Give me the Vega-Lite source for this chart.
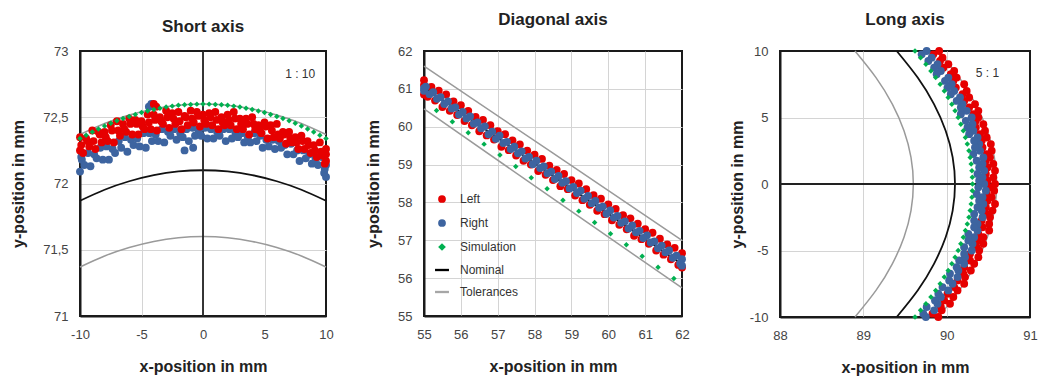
{
  "$schema": "https://vega.github.io/schema/vega-lite/v6.json",
  "padding": {"left": 9, "top": 10, "right": 0, "bottom": 0},
  "background": "white",
  "datasets": {
    "p1": [
      {"s":"Right","x":-9.85,"y":72.18},{"s":"Right","x":-9.35,"y":72.23},{"s":"Right","x":-8.85,"y":72.22},{"s":"Right","x":-8.35,"y":72.27},{"s":"Right","x":-7.85,"y":72.28},{"s":"Right","x":-7.35,"y":72.26},{"s":"Right","x":-6.85,"y":72.32},{"s":"Right","x":-6.35,"y":72.35},{"s":"Right","x":-5.85,"y":72.33},{"s":"Right","x":-5.35,"y":72.34},{"s":"Right","x":-4.85,"y":72.38},{"s":"Right","x":-4.35,"y":72.38},{"s":"Right","x":-3.85,"y":72.37},{"s":"Right","x":-3.35,"y":72.41},{"s":"Right","x":-2.85,"y":72.39},{"s":"Right","x":-2.35,"y":72.41},{"s":"Right","x":-1.85,"y":72.38},{"s":"Right","x":-1.35,"y":72.41},{"s":"Right","x":-0.85,"y":72.42},{"s":"Right","x":-0.35,"y":72.4},{"s":"Right","x":0.15,"y":72.42},{"s":"Right","x":0.65,"y":72.41},{"s":"Right","x":1.15,"y":72.39},{"s":"Right","x":1.65,"y":72.41},{"s":"Right","x":2.15,"y":72.41},{"s":"Right","x":2.65,"y":72.38},{"s":"Right","x":3.15,"y":72.38},{"s":"Right","x":3.65,"y":72.35},{"s":"Right","x":4.15,"y":72.38},{"s":"Right","x":4.65,"y":72.36},{"s":"Right","x":5.15,"y":72.33},{"s":"Right","x":5.65,"y":72.33},{"s":"Right","x":6.15,"y":72.32},{"s":"Right","x":6.65,"y":72.29},{"s":"Right","x":7.15,"y":72.3},{"s":"Right","x":7.65,"y":72.25},{"s":"Right","x":8.15,"y":72.25},{"s":"Right","x":8.65,"y":72.22},{"s":"Right","x":9.15,"y":72.19},{"s":"Right","x":9.65,"y":72.2},{"s":"Right","x":10,"y":72.14},
      {"s":"Right","x":-9.65,"y":72.14},{"s":"Right","x":-9.15,"y":72.13},{"s":"Right","x":-8.65,"y":72.19},{"s":"Right","x":-8.15,"y":72.18},{"s":"Right","x":-7.65,"y":72.18},{"s":"Right","x":-7.15,"y":72.23},{"s":"Right","x":-6.65,"y":72.27},{"s":"Right","x":-6.15,"y":72.24},{"s":"Right","x":-5.65,"y":72.29},{"s":"Right","x":-5.15,"y":72.28},{"s":"Right","x":-4.65,"y":72.27},{"s":"Right","x":-4.15,"y":72.32},{"s":"Right","x":-3.65,"y":72.32},{"s":"Right","x":-3.15,"y":72.31},{"s":"Right","x":-2.65,"y":72.36},{"s":"Right","x":-2.15,"y":72.33},{"s":"Right","x":-1.65,"y":72.35},{"s":"Right","x":-1.15,"y":72.32},{"s":"Right","x":-0.65,"y":72.36},{"s":"Right","x":-0.15,"y":72.36},{"s":"Right","x":0.35,"y":72.34},{"s":"Right","x":0.85,"y":72.34},{"s":"Right","x":1.35,"y":72.36},{"s":"Right","x":1.85,"y":72.32},{"s":"Right","x":2.35,"y":72.34},{"s":"Right","x":2.85,"y":72.35},{"s":"Right","x":3.35,"y":72.31},{"s":"Right","x":3.85,"y":72.31},{"s":"Right","x":4.35,"y":72.32},{"s":"Right","x":4.85,"y":72.27},{"s":"Right","x":5.35,"y":72.28},{"s":"Right","x":5.85,"y":72.26},{"s":"Right","x":6.35,"y":72.27},{"s":"Right","x":6.85,"y":72.22},{"s":"Right","x":7.35,"y":72.22},{"s":"Right","x":7.85,"y":72.17},{"s":"Right","x":8.35,"y":72.19},{"s":"Right","x":8.85,"y":72.15},{"s":"Right","x":9.35,"y":72.14},{"s":"Right","x":9.85,"y":72.08},
      {"s":"Right","x":-10,"y":72.09},{"s":"Right","x":-9.9,"y":72.2},{"s":"Right","x":-4.2,"y":72.6},{"s":"Right","x":-4.4,"y":72.58},{"s":"Right","x":-1.5,"y":72.25},{"s":"Right","x":-0.8,"y":72.27},{"s":"Right","x":10,"y":72.05},{"s":"Right","x":9.9,"y":72.11},
      {"s":"Left","x":-10,"y":72.35},{"s":"Left","x":-9.5,"y":72.34},{"s":"Left","x":-9,"y":72.40},{"s":"Left","x":-8.5,"y":72.39},{"s":"Left","x":-8,"y":72.39},{"s":"Left","x":-7.5,"y":72.44},{"s":"Left","x":-7,"y":72.47},{"s":"Left","x":-6.5,"y":72.45},{"s":"Left","x":-6,"y":72.49},{"s":"Left","x":-5.5,"y":72.48},{"s":"Left","x":-5,"y":72.47},{"s":"Left","x":-4.5,"y":72.52},{"s":"Left","x":-4,"y":72.52},{"s":"Left","x":-3.5,"y":72.5},{"s":"Left","x":-3,"y":72.55},{"s":"Left","x":-2.5,"y":72.53},{"s":"Left","x":-2,"y":72.54},{"s":"Left","x":-1.5,"y":72.51},{"s":"Left","x":-1,"y":72.55},{"s":"Left","x":-0.5,"y":72.54},{"s":"Left","x":0,"y":72.52},{"s":"Left","x":0.5,"y":72.53},{"s":"Left","x":1,"y":72.54},{"s":"Left","x":1.5,"y":72.5},{"s":"Left","x":2,"y":72.52},{"s":"Left","x":2.5,"y":72.54},{"s":"Left","x":3,"y":72.49},{"s":"Left","x":3.5,"y":72.49},{"s":"Left","x":4,"y":72.5},{"s":"Left","x":4.5,"y":72.44},{"s":"Left","x":5,"y":72.46},{"s":"Left","x":5.5,"y":72.44},{"s":"Left","x":6,"y":72.45},{"s":"Left","x":6.5,"y":72.39},{"s":"Left","x":7,"y":72.39},{"s":"Left","x":7.5,"y":72.35},{"s":"Left","x":8,"y":72.36},{"s":"Left","x":8.5,"y":72.32},{"s":"Left","x":9,"y":72.29},{"s":"Left","x":9.5,"y":72.31},{"s":"Left","x":10,"y":72.26},
      {"s":"Left","x":-9.9,"y":72.29},{"s":"Left","x":-9.4,"y":72.32},{"s":"Left","x":-8.9,"y":72.32},{"s":"Left","x":-8.4,"y":72.37},{"s":"Left","x":-7.9,"y":72.35},{"s":"Left","x":-7.4,"y":72.40},{"s":"Left","x":-6.9,"y":72.40},{"s":"Left","x":-6.4,"y":72.41},{"s":"Left","x":-5.9,"y":72.45},{"s":"Left","x":-5.4,"y":72.45},{"s":"Left","x":-4.9,"y":72.43},{"s":"Left","x":-4.4,"y":72.46},{"s":"Left","x":-3.9,"y":72.48},{"s":"Left","x":-3.4,"y":72.47},{"s":"Left","x":-2.9,"y":72.50},{"s":"Left","x":-2.4,"y":72.49},{"s":"Left","x":-1.9,"y":72.47},{"s":"Left","x":-1.4,"y":72.50},{"s":"Left","x":-0.9,"y":72.49},{"s":"Left","x":-0.4,"y":72.51},{"s":"Left","x":0.1,"y":72.48},{"s":"Left","x":0.6,"y":72.50},{"s":"Left","x":1.1,"y":72.48},{"s":"Left","x":1.6,"y":72.46},{"s":"Left","x":2.1,"y":72.48},{"s":"Left","x":2.6,"y":72.49},{"s":"Left","x":3.1,"y":72.45},{"s":"Left","x":3.6,"y":72.45},{"s":"Left","x":4.1,"y":72.45},{"s":"Left","x":4.6,"y":72.40},{"s":"Left","x":5.1,"y":72.43},{"s":"Left","x":5.6,"y":72.40},{"s":"Left","x":6.1,"y":72.37},{"s":"Left","x":6.6,"y":72.37},{"s":"Left","x":7.1,"y":72.34},{"s":"Left","x":7.6,"y":72.31},{"s":"Left","x":8.1,"y":72.32},{"s":"Left","x":8.6,"y":72.29},{"s":"Left","x":9.1,"y":72.25},{"s":"Left","x":9.6,"y":72.24},{"s":"Left","x":10,"y":72.22},
      {"s":"Left","x":-9.75,"y":72.23},{"s":"Left","x":-9.25,"y":72.28},{"s":"Left","x":-8.75,"y":72.26},{"s":"Left","x":-8.25,"y":72.31},{"s":"Left","x":-7.75,"y":72.32},{"s":"Left","x":-7.25,"y":72.31},{"s":"Left","x":-6.75,"y":72.36},{"s":"Left","x":-6.25,"y":72.39},{"s":"Left","x":-5.75,"y":72.37},{"s":"Left","x":-5.25,"y":72.37},{"s":"Left","x":-4.75,"y":72.41},{"s":"Left","x":-4.25,"y":72.41},{"s":"Left","x":-3.75,"y":72.40},{"s":"Left","x":-3.25,"y":72.45},{"s":"Left","x":-2.75,"y":72.42},{"s":"Left","x":-2.25,"y":72.45},{"s":"Left","x":-1.75,"y":72.41},{"s":"Left","x":-1.25,"y":72.44},{"s":"Left","x":-0.75,"y":72.46},{"s":"Left","x":-0.25,"y":72.43},{"s":"Left","x":0.25,"y":72.45},{"s":"Left","x":0.75,"y":72.44},{"s":"Left","x":1.25,"y":72.41},{"s":"Left","x":1.75,"y":72.44},{"s":"Left","x":2.25,"y":72.44},{"s":"Left","x":2.75,"y":72.41},{"s":"Left","x":3.25,"y":72.41},{"s":"Left","x":3.75,"y":72.37},{"s":"Left","x":4.25,"y":72.41},{"s":"Left","x":4.75,"y":72.38},{"s":"Left","x":5.25,"y":72.34},{"s":"Left","x":5.75,"y":72.35},{"s":"Left","x":6.25,"y":72.34},{"s":"Left","x":6.75,"y":72.30},{"s":"Left","x":7.25,"y":72.31},{"s":"Left","x":7.75,"y":72.26},{"s":"Left","x":8.25,"y":72.26},{"s":"Left","x":8.75,"y":72.23},{"s":"Left","x":9.25,"y":72.20},{"s":"Left","x":9.75,"y":72.21},
      {"s":"Left","x":-4,"y":72.6},{"s":"Left","x":-3.8,"y":72.58},{"s":"Left","x":9.9,"y":72.15},{"s":"Left","x":-10,"y":72.25},{"s":"Left","x":10,"y":72.17},
      {"s":"Simulation","x":-10,"y":72.34},{"s":"Simulation","x":-9.5,"y":72.365},{"s":"Simulation","x":-9,"y":72.389},{"s":"Simulation","x":-8.5,"y":72.412},{"s":"Simulation","x":-8,"y":72.434},{"s":"Simulation","x":-7.5,"y":72.454},{"s":"Simulation","x":-7,"y":72.473},{"s":"Simulation","x":-6.5,"y":72.49},{"s":"Simulation","x":-6,"y":72.506},{"s":"Simulation","x":-5.5,"y":72.521},{"s":"Simulation","x":-5,"y":72.535},{"s":"Simulation","x":-4.5,"y":72.547},{"s":"Simulation","x":-4,"y":72.558},{"s":"Simulation","x":-3.5,"y":72.568},{"s":"Simulation","x":-3,"y":72.577},{"s":"Simulation","x":-2.5,"y":72.584},{"s":"Simulation","x":-2,"y":72.59},{"s":"Simulation","x":-1.5,"y":72.594},{"s":"Simulation","x":-1,"y":72.597},{"s":"Simulation","x":-0.5,"y":72.599},{"s":"Simulation","x":0,"y":72.6},{"s":"Simulation","x":0.5,"y":72.599},{"s":"Simulation","x":1,"y":72.597},{"s":"Simulation","x":1.5,"y":72.594},{"s":"Simulation","x":2,"y":72.59},{"s":"Simulation","x":2.5,"y":72.584},{"s":"Simulation","x":3,"y":72.577},{"s":"Simulation","x":3.5,"y":72.568},{"s":"Simulation","x":4,"y":72.558},{"s":"Simulation","x":4.5,"y":72.547},{"s":"Simulation","x":5,"y":72.535},{"s":"Simulation","x":5.5,"y":72.521},{"s":"Simulation","x":6,"y":72.506},{"s":"Simulation","x":6.5,"y":72.49},{"s":"Simulation","x":7,"y":72.473},{"s":"Simulation","x":7.5,"y":72.454},{"s":"Simulation","x":8,"y":72.434},{"s":"Simulation","x":8.5,"y":72.412},{"s":"Simulation","x":9,"y":72.389},{"s":"Simulation","x":9.5,"y":72.365},{"s":"Simulation","x":10,"y":72.34}
    ],
    "p1l": [
      {"s":"Nominal","x":-10,"y":71.87},{"s":"Nominal","x":-8,"y":71.953},{"s":"Nominal","x":-6,"y":72.017},{"s":"Nominal","x":-4,"y":72.063},{"s":"Nominal","x":-2,"y":72.091},{"s":"Nominal","x":0,"y":72.1},{"s":"Nominal","x":2,"y":72.091},{"s":"Nominal","x":4,"y":72.063},{"s":"Nominal","x":6,"y":72.017},{"s":"Nominal","x":8,"y":71.953},{"s":"Nominal","x":10,"y":71.87},
      {"s":"TolLow","x":-10,"y":71.37},{"s":"TolLow","x":-8,"y":71.453},{"s":"TolLow","x":-6,"y":71.517},{"s":"TolLow","x":-4,"y":71.563},{"s":"TolLow","x":-2,"y":71.591},{"s":"TolLow","x":0,"y":71.6},{"s":"TolLow","x":2,"y":71.591},{"s":"TolLow","x":4,"y":71.563},{"s":"TolLow","x":6,"y":71.517},{"s":"TolLow","x":8,"y":71.453},{"s":"TolLow","x":10,"y":71.37},
      {"s":"TolUp","x":-10,"y":72.37},{"s":"TolUp","x":-8,"y":72.453},{"s":"TolUp","x":-6,"y":72.517},{"s":"TolUp","x":-4,"y":72.563},{"s":"TolUp","x":-2,"y":72.591},{"s":"TolUp","x":0,"y":72.6},{"s":"TolUp","x":2,"y":72.591},{"s":"TolUp","x":4,"y":72.563},{"s":"TolUp","x":6,"y":72.517},{"s":"TolUp","x":8,"y":72.453},{"s":"TolUp","x":10,"y":72.37}
    ],
    "p2": [
      {"s":"Left","x":55,"y":61.23},{"s":"Left","x":55.2,"y":61.05},{"s":"Left","x":55.4,"y":60.95},{"s":"Left","x":55.6,"y":60.85},{"s":"Left","x":55.8,"y":60.67},{"s":"Left","x":56,"y":60.57},{"s":"Left","x":56.2,"y":60.42},{"s":"Left","x":56.4,"y":60.26},{"s":"Left","x":56.6,"y":60.18},{"s":"Left","x":56.8,"y":60.04},{"s":"Left","x":57,"y":59.88},{"s":"Left","x":57.2,"y":59.8},{"s":"Left","x":57.4,"y":59.64},{"s":"Left","x":57.6,"y":59.53},{"s":"Left","x":57.8,"y":59.37},{"s":"Left","x":58,"y":59.26},{"s":"Left","x":58.2,"y":59.15},{"s":"Left","x":58.4,"y":58.97},{"s":"Left","x":58.6,"y":58.86},{"s":"Left","x":58.8,"y":58.75},{"s":"Left","x":59,"y":58.59},{"s":"Left","x":59.2,"y":58.5},{"s":"Left","x":59.4,"y":58.35},{"s":"Left","x":59.6,"y":58.19},{"s":"Left","x":59.8,"y":58.1},{"s":"Left","x":60,"y":57.95},{"s":"Left","x":60.2,"y":57.83},{"s":"Left","x":60.4,"y":57.66},{"s":"Left","x":60.6,"y":57.58},{"s":"Left","x":60.8,"y":57.44},{"s":"Left","x":61,"y":57.29},{"s":"Left","x":61.2,"y":57.2},{"s":"Left","x":61.4,"y":57.04},{"s":"Left","x":61.6,"y":56.89},{"s":"Left","x":61.8,"y":56.8},{"s":"Left","x":62,"y":56.66},
      {"s":"Left","x":55.1,"y":60.79},{"s":"Left","x":55.3,"y":60.69},{"s":"Left","x":55.5,"y":60.52},{"s":"Left","x":55.7,"y":60.42},{"s":"Left","x":55.9,"y":60.31},{"s":"Left","x":56.1,"y":60.15},{"s":"Left","x":56.3,"y":60.04},{"s":"Left","x":56.5,"y":59.88},{"s":"Left","x":56.7,"y":59.77},{"s":"Left","x":56.9,"y":59.66},{"s":"Left","x":57.1,"y":59.47},{"s":"Left","x":57.3,"y":59.38},{"s":"Left","x":57.5,"y":59.24},{"s":"Left","x":57.7,"y":59.1},{"s":"Left","x":57.9,"y":59.0},{"s":"Left","x":58.1,"y":58.83},{"s":"Left","x":58.3,"y":58.73},{"s":"Left","x":58.5,"y":58.59},{"s":"Left","x":58.7,"y":58.43},{"s":"Left","x":58.9,"y":58.35},{"s":"Left","x":59.1,"y":58.18},{"s":"Left","x":59.3,"y":58.06},{"s":"Left","x":59.5,"y":57.94},{"s":"Left","x":59.7,"y":57.78},{"s":"Left","x":59.9,"y":57.69},{"s":"Left","x":60.1,"y":57.53},{"s":"Left","x":60.3,"y":57.41},{"s":"Left","x":60.5,"y":57.29},{"s":"Left","x":60.7,"y":57.12},{"s":"Left","x":60.9,"y":57.03},{"s":"Left","x":61.1,"y":56.91},{"s":"Left","x":61.3,"y":56.73},{"s":"Left","x":61.5,"y":56.62},{"s":"Left","x":61.7,"y":56.5},{"s":"Left","x":61.9,"y":56.35},{"s":"Left","x":62,"y":56.28},{"s":"Left","x":55,"y":60.85},{"s":"Left","x":55,"y":61.1},
      {"s":"Right","x":55.05,"y":61.06},{"s":"Right","x":55.25,"y":60.91},{"s":"Right","x":55.45,"y":60.78},{"s":"Right","x":55.65,"y":60.67},{"s":"Right","x":55.85,"y":60.51},{"s":"Right","x":56.05,"y":60.39},{"s":"Right","x":56.25,"y":60.27},{"s":"Right","x":56.45,"y":60.11},{"s":"Right","x":56.65,"y":60.01},{"s":"Right","x":56.85,"y":59.87},{"s":"Right","x":57.05,"y":59.76},{"s":"Right","x":57.25,"y":59.6},{"s":"Right","x":57.45,"y":59.47},{"s":"Right","x":57.65,"y":59.35},{"s":"Right","x":57.85,"y":59.2},{"s":"Right","x":58.05,"y":59.1},{"s":"Right","x":58.25,"y":58.95},{"s":"Right","x":58.45,"y":58.81},{"s":"Right","x":58.65,"y":58.7},{"s":"Right","x":58.85,"y":58.56},{"s":"Right","x":59.05,"y":58.41},{"s":"Right","x":59.25,"y":58.31},{"s":"Right","x":59.45,"y":58.17},{"s":"Right","x":59.65,"y":58.04},{"s":"Right","x":59.85,"y":57.89},{"s":"Right","x":60.05,"y":57.79},{"s":"Right","x":60.25,"y":57.64},{"s":"Right","x":60.45,"y":57.5},{"s":"Right","x":60.65,"y":57.39},{"s":"Right","x":60.85,"y":57.25},{"s":"Right","x":61.05,"y":57.13},{"s":"Right","x":61.25,"y":56.97},{"s":"Right","x":61.45,"y":56.86},{"s":"Right","x":61.65,"y":56.73},{"s":"Right","x":61.85,"y":56.59},{"s":"Right","x":62,"y":56.5},
      {"s":"Right","x":55.15,"y":60.86},{"s":"Right","x":55.35,"y":60.74},{"s":"Right","x":55.55,"y":60.6},{"s":"Right","x":55.75,"y":60.48},{"s":"Right","x":55.95,"y":60.32},{"s":"Right","x":56.15,"y":60.22},{"s":"Right","x":56.35,"y":60.08},{"s":"Right","x":56.55,"y":59.96},{"s":"Right","x":56.75,"y":59.8},{"s":"Right","x":56.95,"y":59.68},{"s":"Right","x":57.15,"y":59.57},{"s":"Right","x":57.35,"y":59.41},{"s":"Right","x":57.55,"y":59.3},{"s":"Right","x":57.75,"y":59.16},{"s":"Right","x":57.95,"y":59.01},{"s":"Right","x":58.15,"y":58.91},{"s":"Right","x":58.35,"y":58.77},{"s":"Right","x":58.55,"y":58.62},{"s":"Right","x":58.75,"y":58.52},{"s":"Right","x":58.95,"y":58.37},{"s":"Right","x":59.15,"y":58.25},{"s":"Right","x":59.35,"y":58.1},{"s":"Right","x":59.55,"y":57.98},{"s":"Right","x":59.75,"y":57.86},{"s":"Right","x":59.95,"y":57.7},{"s":"Right","x":60.15,"y":57.6},{"s":"Right","x":60.35,"y":57.46},{"s":"Right","x":60.55,"y":57.31},{"s":"Right","x":60.75,"y":57.21},{"s":"Right","x":60.95,"y":57.06},{"s":"Right","x":61.15,"y":56.94},{"s":"Right","x":61.35,"y":56.79},{"s":"Right","x":61.55,"y":56.68},{"s":"Right","x":61.75,"y":56.54},{"s":"Right","x":61.95,"y":56.39},{"s":"Right","x":62,"y":56.33},{"s":"Right","x":55,"y":60.95},{"s":"Right","x":55,"y":61.02},
      {"s":"Simulation","x":55.34,"y":60.43},{"s":"Simulation","x":55.77,"y":60.13},{"s":"Simulation","x":56.2,"y":59.84},{"s":"Simulation","x":56.63,"y":59.54},{"s":"Simulation","x":57.06,"y":59.25},{"s":"Simulation","x":57.49,"y":58.95},{"s":"Simulation","x":57.91,"y":58.65},{"s":"Simulation","x":58.34,"y":58.36},{"s":"Simulation","x":58.77,"y":58.06},{"s":"Simulation","x":59.2,"y":57.77},{"s":"Simulation","x":59.63,"y":57.47},{"s":"Simulation","x":60.06,"y":57.17},{"s":"Simulation","x":60.49,"y":56.88},{"s":"Simulation","x":60.92,"y":56.58},{"s":"Simulation","x":61.35,"y":56.29},{"s":"Simulation","x":61.78,"y":55.99}
    ],
    "p2l": [
      {"s":"Nominal","x":55,"y":61.04},{"s":"Nominal","x":58.5,"y":58.7},{"s":"Nominal","x":62,"y":56.37},
      {"s":"TolUp","x":55,"y":61.6},{"s":"TolUp","x":58.5,"y":59.3},{"s":"TolUp","x":62,"y":57.0},
      {"s":"TolLow","x":55,"y":60.47},{"s":"TolLow","x":58.5,"y":58.1},{"s":"TolLow","x":62,"y":55.74}
    ],
    "p3": [
      {"s":"Left","x":89.9,"y":-10},{"s":"Left","x":89.94,"y":-9.5},{"s":"Left","x":90.04,"y":-9},{"s":"Left","x":90.08,"y":-8.5},{"s":"Left","x":90.13,"y":-8},{"s":"Left","x":90.21,"y":-7.5},{"s":"Left","x":90.22,"y":-7},{"s":"Left","x":90.29,"y":-6.5},{"s":"Left","x":90.33,"y":-6},{"s":"Left","x":90.38,"y":-5.5},{"s":"Left","x":90.39,"y":-5},{"s":"Left","x":90.44,"y":-4.5},{"s":"Left","x":90.44,"y":-4},{"s":"Left","x":90.51,"y":-3.5},{"s":"Left","x":90.51,"y":-3},{"s":"Left","x":90.52,"y":-2.5},{"s":"Left","x":90.55,"y":-2},{"s":"Left","x":90.58,"y":-1.5},{"s":"Left","x":90.54,"y":-1},{"s":"Left","x":90.57,"y":-0.5},{"s":"Left","x":90.58,"y":0},{"s":"Left","x":90.56,"y":0.5},{"s":"Left","x":90.58,"y":1},{"s":"Left","x":90.56,"y":1.5},{"s":"Left","x":90.52,"y":2},{"s":"Left","x":90.54,"y":2.5},{"s":"Left","x":90.53,"y":3},{"s":"Left","x":90.48,"y":3.5},{"s":"Left","x":90.46,"y":4},{"s":"Left","x":90.44,"y":4.5},{"s":"Left","x":90.38,"y":5},{"s":"Left","x":90.38,"y":5.5},{"s":"Left","x":90.34,"y":6},{"s":"Left","x":90.27,"y":6.5},{"s":"Left","x":90.24,"y":7},{"s":"Left","x":90.21,"y":7.5},{"s":"Left","x":90.12,"y":8},{"s":"Left","x":90.09,"y":8.5},{"s":"Left","x":90.02,"y":9},{"s":"Left","x":89.95,"y":9.5},{"s":"Left","x":89.91,"y":10},
      {"s":"Left","x":89.83,"y":-9.75},{"s":"Left","x":89.93,"y":-9.25},{"s":"Left","x":89.97,"y":-8.75},{"s":"Left","x":90.01,"y":-8.25},{"s":"Left","x":90.09,"y":-7.75},{"s":"Left","x":90.13,"y":-7.25},{"s":"Left","x":90.2,"y":-6.75},{"s":"Left","x":90.21,"y":-6.25},{"s":"Left","x":90.28,"y":-5.75},{"s":"Left","x":90.28,"y":-5.25},{"s":"Left","x":90.36,"y":-4.75},{"s":"Left","x":90.37,"y":-4.25},{"s":"Left","x":90.38,"y":-3.75},{"s":"Left","x":90.43,"y":-3.25},{"s":"Left","x":90.42,"y":-2.75},{"s":"Left","x":90.48,"y":-2.25},{"s":"Left","x":90.47,"y":-1.75},{"s":"Left","x":90.49,"y":-1.25},{"s":"Left","x":90.48,"y":-0.75},{"s":"Left","x":90.51,"y":-0.25},{"s":"Left","x":90.49,"y":0.25},{"s":"Left","x":90.47,"y":0.75},{"s":"Left","x":90.49,"y":1.25},{"s":"Left","x":90.47,"y":1.75},{"s":"Left","x":90.48,"y":2.25},{"s":"Left","x":90.43,"y":2.75},{"s":"Left","x":90.42,"y":3.25},{"s":"Left","x":90.4,"y":3.75},{"s":"Left","x":90.35,"y":4.25},{"s":"Left","x":90.35,"y":4.75},{"s":"Left","x":90.32,"y":5.25},{"s":"Left","x":90.27,"y":5.75},{"s":"Left","x":90.21,"y":6.25},{"s":"Left","x":90.19,"y":6.75},{"s":"Left","x":90.11,"y":7.25},{"s":"Left","x":90.08,"y":7.75},{"s":"Left","x":90.05,"y":8.25},{"s":"Left","x":89.96,"y":8.75},{"s":"Left","x":89.92,"y":9.25},{"s":"Left","x":89.84,"y":9.75},
      {"s":"Right","x":89.75,"y":-10},{"s":"Right","x":89.85,"y":-9.5},{"s":"Right","x":89.89,"y":-9},{"s":"Right","x":89.93,"y":-8.5},{"s":"Right","x":90.02,"y":-8},{"s":"Right","x":90.07,"y":-7.5},{"s":"Right","x":90.13,"y":-7},{"s":"Right","x":90.14,"y":-6.5},{"s":"Right","x":90.21,"y":-6},{"s":"Right","x":90.22,"y":-5.5},{"s":"Right","x":90.3,"y":-5},{"s":"Right","x":90.31,"y":-4.5},{"s":"Right","x":90.33,"y":-4},{"s":"Right","x":90.37,"y":-3.5},{"s":"Right","x":90.37,"y":-3},{"s":"Right","x":90.43,"y":-2.5},{"s":"Right","x":90.42,"y":-2},{"s":"Right","x":90.44,"y":-1.5},{"s":"Right","x":90.43,"y":-1},{"s":"Right","x":90.47,"y":-0.5},{"s":"Right","x":90.45,"y":0},{"s":"Right","x":90.43,"y":0.5},{"s":"Right","x":90.45,"y":1},{"s":"Right","x":90.43,"y":1.5},{"s":"Right","x":90.44,"y":2},{"s":"Right","x":90.4,"y":2.5},{"s":"Right","x":90.39,"y":3},{"s":"Right","x":90.37,"y":3.5},{"s":"Right","x":90.32,"y":4},{"s":"Right","x":90.31,"y":4.5},{"s":"Right","x":90.3,"y":5},{"s":"Right","x":90.24,"y":5.5},{"s":"Right","x":90.19,"y":6},{"s":"Right","x":90.16,"y":6.5},{"s":"Right","x":90.09,"y":7},{"s":"Right","x":90.06,"y":7.5},{"s":"Right","x":90.02,"y":8},{"s":"Right","x":89.93,"y":8.5},{"s":"Right","x":89.89,"y":9},{"s":"Right","x":89.82,"y":9.5},{"s":"Right","x":89.76,"y":10},
      {"s":"Right","x":89.72,"y":-9.75},{"s":"Right","x":89.76,"y":-9.25},{"s":"Right","x":89.86,"y":-8.75},{"s":"Right","x":89.9,"y":-8.25},{"s":"Right","x":89.95,"y":-7.75},{"s":"Right","x":90.03,"y":-7.25},{"s":"Right","x":90.04,"y":-6.75},{"s":"Right","x":90.12,"y":-6.25},{"s":"Right","x":90.15,"y":-5.75},{"s":"Right","x":90.21,"y":-5.25},{"s":"Right","x":90.21,"y":-4.75},{"s":"Right","x":90.26,"y":-4.25},{"s":"Right","x":90.26,"y":-3.75},{"s":"Right","x":90.33,"y":-3.25},{"s":"Right","x":90.33,"y":-2.75},{"s":"Right","x":90.33,"y":-2.25},{"s":"Right","x":90.37,"y":-1.75},{"s":"Right","x":90.39,"y":-1.25},{"s":"Right","x":90.36,"y":-0.75},{"s":"Right","x":90.38,"y":-0.25},{"s":"Right","x":90.39,"y":0.25},{"s":"Right","x":90.37,"y":0.75},{"s":"Right","x":90.39,"y":1.25},{"s":"Right","x":90.36,"y":1.75},{"s":"Right","x":90.32,"y":2.25},{"s":"Right","x":90.34,"y":2.75},{"s":"Right","x":90.33,"y":3.25},{"s":"Right","x":90.27,"y":3.75},{"s":"Right","x":90.25,"y":4.25},{"s":"Right","x":90.23,"y":4.75},{"s":"Right","x":90.17,"y":5.25},{"s":"Right","x":90.17,"y":5.75},{"s":"Right","x":90.12,"y":6.25},{"s":"Right","x":90.05,"y":6.75},{"s":"Right","x":90.01,"y":7.25},{"s":"Right","x":89.98,"y":7.75},{"s":"Right","x":89.88,"y":8.25},{"s":"Right","x":89.85,"y":8.75},{"s":"Right","x":89.78,"y":9.25},{"s":"Right","x":89.7,"y":9.75},
      {"s":"Simulation","x":89.62,"y":-10},{"s":"Simulation","x":89.687,"y":-9.5},{"s":"Simulation","x":89.751,"y":-9},{"s":"Simulation","x":89.811,"y":-8.5},{"s":"Simulation","x":89.868,"y":-8},{"s":"Simulation","x":89.922,"y":-7.5},{"s":"Simulation","x":89.972,"y":-7},{"s":"Simulation","x":90.018,"y":-6.5},{"s":"Simulation","x":90.062,"y":-6},{"s":"Simulation","x":90.101,"y":-5.5},{"s":"Simulation","x":90.138,"y":-5},{"s":"Simulation","x":90.17,"y":-4.5},{"s":"Simulation","x":90.2,"y":-4},{"s":"Simulation","x":90.225,"y":-3.5},{"s":"Simulation","x":90.248,"y":-3},{"s":"Simulation","x":90.267,"y":-2.5},{"s":"Simulation","x":90.282,"y":-2},{"s":"Simulation","x":90.294,"y":-1.5},{"s":"Simulation","x":90.303,"y":-1},{"s":"Simulation","x":90.308,"y":-0.5},{"s":"Simulation","x":90.31,"y":0},{"s":"Simulation","x":90.308,"y":0.5},{"s":"Simulation","x":90.303,"y":1},{"s":"Simulation","x":90.294,"y":1.5},{"s":"Simulation","x":90.282,"y":2},{"s":"Simulation","x":90.267,"y":2.5},{"s":"Simulation","x":90.248,"y":3},{"s":"Simulation","x":90.225,"y":3.5},{"s":"Simulation","x":90.2,"y":4},{"s":"Simulation","x":90.17,"y":4.5},{"s":"Simulation","x":90.138,"y":5},{"s":"Simulation","x":90.101,"y":5.5},{"s":"Simulation","x":90.062,"y":6},{"s":"Simulation","x":90.018,"y":6.5},{"s":"Simulation","x":89.972,"y":7},{"s":"Simulation","x":89.922,"y":7.5},{"s":"Simulation","x":89.868,"y":8},{"s":"Simulation","x":89.811,"y":8.5},{"s":"Simulation","x":89.751,"y":9},{"s":"Simulation","x":89.687,"y":9.5},{"s":"Simulation","x":89.62,"y":10}
    ],
    "p3l": [
      {"s":"Nominal","x":89.4,"y":-10},{"s":"Nominal","x":89.652,"y":-8},{"s":"Nominal","x":89.848,"y":-6},{"s":"Nominal","x":89.988,"y":-4},{"s":"Nominal","x":90.072,"y":-2},{"s":"Nominal","x":90.1,"y":0},{"s":"Nominal","x":90.072,"y":2},{"s":"Nominal","x":89.988,"y":4},{"s":"Nominal","x":89.848,"y":6},{"s":"Nominal","x":89.652,"y":8},{"s":"Nominal","x":89.4,"y":10},
      {"s":"TolIn","x":88.9,"y":-10},{"s":"TolIn","x":89.152,"y":-8},{"s":"TolIn","x":89.348,"y":-6},{"s":"TolIn","x":89.488,"y":-4},{"s":"TolIn","x":89.572,"y":-2},{"s":"TolIn","x":89.6,"y":0},{"s":"TolIn","x":89.572,"y":2},{"s":"TolIn","x":89.488,"y":4},{"s":"TolIn","x":89.348,"y":6},{"s":"TolIn","x":89.152,"y":8},{"s":"TolIn","x":88.9,"y":10},
      {"s":"TolOut","x":89.9,"y":-10},{"s":"TolOut","x":90.152,"y":-8},{"s":"TolOut","x":90.348,"y":-6},{"s":"TolOut","x":90.488,"y":-4},{"s":"TolOut","x":90.572,"y":-2},{"s":"TolOut","x":90.6,"y":0},{"s":"TolOut","x":90.572,"y":2},{"s":"TolOut","x":90.488,"y":4},{"s":"TolOut","x":90.348,"y":6},{"s":"TolOut","x":90.152,"y":8},{"s":"TolOut","x":89.9,"y":10}
    ]
  },
  "hconcat": [
    {
      "title": {"text": "Short axis", "offset": 9},
      "width": 246,
      "height": 265,
      "view": {"stroke": "#1a1a1a", "strokeWidth": 2},
      "layer": [
        {"data": {"name": "p1l"}, "transform": [{"filter": "datum.s !== 'Nominal'"}], "mark": {"type": "line", "color": "#9a9a9a", "strokeWidth": 1.5, "interpolate": "natural"},
         "encoding": {
           "x": {"field": "x", "type": "quantitative", "scale": {"domain": [-10, 10], "nice": false, "zero": false}, "axis": {"values": [-10, -5, 0, 5, 10], "title": "x-position in mm", "labelExpr": "replace(format(datum.value, 'd'), '\u2212', '-')", "gridOpacity": {"condition": {"test": "abs(datum.value) >= 10", "value": 0}, "value": 1}}},
           "y": {"field": "y", "type": "quantitative", "scale": {"domain": [71, 73], "nice": false, "zero": false}, "axis": {"values": [71, 71.5, 72, 72.5, 73], "title": "y-position in mm", "labelExpr": "replace(format(datum.value, ''), '.', ',')", "titlePadding": 16, "gridOpacity": {"condition": {"test": "datum.value <= 71 || datum.value >= 73", "value": 0}, "value": 1}}},
           "detail": {"field": "s"}}},
        {"data": {"name": "p1l"}, "transform": [{"filter": "datum.s === 'Nominal'"}], "mark": {"type": "line", "color": "#111111", "strokeWidth": 1.8, "interpolate": "natural"},
         "encoding": {"x": {"field": "x", "type": "quantitative"}, "y": {"field": "y", "type": "quantitative"}}},
        {"data": {"name": "p1l"}, "transform": [{"filter": "datum.s === 'Nominal' && datum.x === 0"}], "mark": {"type": "rule", "color": "#222222", "strokeWidth": 1.8},
         "encoding": {"x": {"field": "x", "type": "quantitative"}}},
        {"data": {"name": "p1"}, "transform": [{"filter": "datum.s !== 'Simulation'"}], "mark": {"type": "point", "filled": true, "size": 62, "opacity": 1},
         "encoding": {
           "x": {"field": "x", "type": "quantitative"}, "y": {"field": "y", "type": "quantitative"},
           "color": {"field": "s", "type": "nominal", "scale": {"domain": ["Left", "Right", "Simulation", "Nominal", "Tolerances"], "range": ["#e60000", "#3d64a0", "#00b050", "#000000", "#a6a6a6"]}, "legend": null},
           "shape": {"field": "s", "type": "nominal", "scale": {"domain": ["Left", "Right", "Simulation", "Nominal", "Tolerances"], "range": ["circle", "circle", "diamond", "M-1.8,-0.3H1.8V0.3H-1.8Z", "M-1.8,-0.3H1.8V0.3H-1.8Z"]}, "legend": null}
         }},
        {"data": {"name": "p1"}, "transform": [{"filter": "datum.s === 'Simulation'"}], "mark": {"type": "point", "filled": true, "size": 30, "opacity": 1},
         "encoding": {
           "x": {"field": "x", "type": "quantitative"}, "y": {"field": "y", "type": "quantitative"},
           "color": {"field": "s", "type": "nominal", "legend": null},
           "shape": {"field": "s", "type": "nominal", "legend": null}
         }},
        {"data": {"values": [{"a": 1}]}, "mark": {"type": "text", "font": "Liberation Sans", "fontSize": 12, "color": "#333333"},
         "encoding": {"x": {"datum": 7.9}, "y": {"datum": 72.83}, "text": {"value": "1 : 10"}}}
      ]
    },
    {
      "title": {"text": "Diagonal axis", "offset": 16},
      "width": 258,
      "height": 265,
      "view": {"stroke": "#1a1a1a", "strokeWidth": 2},
      "encoding": {
        "x": {"field": "x", "type": "quantitative", "scale": {"domain": [55, 62], "nice": false, "zero": false}, "axis": {"values": [55, 56, 57, 58, 59, 60, 61, 62], "format": "d", "labelOverlap": false, "title": "x-position in mm", "gridColor": {"condition": {"test": "datum.value <= 55 || datum.value >= 62", "value": "transparent"}, "value": "#d4d4d4"}}},
        "y": {"field": "y", "type": "quantitative", "scale": {"domain": [55, 62], "nice": false, "zero": false}, "axis": {"values": [55, 56, 57, 58, 59, 60, 61, 62], "format": "d", "labelOverlap": false, "title": "y-position in mm", "titlePadding": 16, "gridColor": {"condition": {"test": "datum.value <= 55 || datum.value >= 62", "value": "transparent"}, "value": "#d4d4d4"}}}
      },
      "layer": [
        {"data": {"values": [{"a": 1}]}, "mark": {"type": "rule", "color": "#d4d4d4", "strokeWidth": 1}, "encoding": {"x": {"datum": 56}, "y": {"datum": 55}, "y2": {"datum": 62}}},
        {"data": {"values": [{"a": 1}]}, "mark": {"type": "rule", "color": "#d4d4d4", "strokeWidth": 1}, "encoding": {"x": {"datum": 57}, "y": {"datum": 55}, "y2": {"datum": 62}}},
        {"data": {"values": [{"a": 1}]}, "mark": {"type": "rule", "color": "#d4d4d4", "strokeWidth": 1}, "encoding": {"x": {"datum": 58}, "y": {"datum": 55}, "y2": {"datum": 62}}},
        {"data": {"values": [{"a": 1}]}, "mark": {"type": "rule", "color": "#d4d4d4", "strokeWidth": 1}, "encoding": {"x": {"datum": 59}, "y": {"datum": 55}, "y2": {"datum": 62}}},
        {"data": {"values": [{"a": 1}]}, "mark": {"type": "rule", "color": "#d4d4d4", "strokeWidth": 1}, "encoding": {"x": {"datum": 60}, "y": {"datum": 55}, "y2": {"datum": 62}}},
        {"data": {"values": [{"a": 1}]}, "mark": {"type": "rule", "color": "#d4d4d4", "strokeWidth": 1}, "encoding": {"x": {"datum": 61}, "y": {"datum": 55}, "y2": {"datum": 62}}},
        {"data": {"values": [{"a": 1}]}, "mark": {"type": "rule", "color": "#d4d4d4", "strokeWidth": 1}, "encoding": {"y": {"datum": 56}, "x": {"datum": 55}, "x2": {"datum": 62}}},
        {"data": {"values": [{"a": 1}]}, "mark": {"type": "rule", "color": "#d4d4d4", "strokeWidth": 1}, "encoding": {"y": {"datum": 57}, "x": {"datum": 55}, "x2": {"datum": 62}}},
        {"data": {"values": [{"a": 1}]}, "mark": {"type": "rule", "color": "#d4d4d4", "strokeWidth": 1}, "encoding": {"y": {"datum": 58}, "x": {"datum": 55}, "x2": {"datum": 62}}},
        {"data": {"values": [{"a": 1}]}, "mark": {"type": "rule", "color": "#d4d4d4", "strokeWidth": 1}, "encoding": {"y": {"datum": 59}, "x": {"datum": 55}, "x2": {"datum": 62}}},
        {"data": {"values": [{"a": 1}]}, "mark": {"type": "rule", "color": "#d4d4d4", "strokeWidth": 1}, "encoding": {"y": {"datum": 60}, "x": {"datum": 55}, "x2": {"datum": 62}}},
        {"data": {"values": [{"a": 1}]}, "mark": {"type": "rule", "color": "#d4d4d4", "strokeWidth": 1}, "encoding": {"y": {"datum": 61}, "x": {"datum": 55}, "x2": {"datum": 62}}},
        {"data": {"values": [{"a": 1}]}, "mark": {"type": "rule", "color": "#1a1a1a", "strokeWidth": 2}, "encoding": {"x": {"datum": 55}, "y": {"datum": 55}, "y2": {"datum": 62}}},
        {"data": {"values": [{"a": 1}]}, "mark": {"type": "rule", "color": "#1a1a1a", "strokeWidth": 2}, "encoding": {"x": {"datum": 62}, "y": {"datum": 55}, "y2": {"datum": 62}}},
        {"data": {"values": [{"a": 1}]}, "mark": {"type": "rule", "color": "#1a1a1a", "strokeWidth": 2}, "encoding": {"y": {"datum": 55}, "x": {"datum": 55}, "x2": {"datum": 62}}},
        {"data": {"values": [{"a": 1}]}, "mark": {"type": "rule", "color": "#1a1a1a", "strokeWidth": 2}, "encoding": {"y": {"datum": 62}, "x": {"datum": 55}, "x2": {"datum": 62}}},
        {"data": {"name": "p2l"}, "transform": [{"filter": "datum.s !== 'Nominal'"}], "mark": {"type": "line", "color": "#9a9a9a", "strokeWidth": 1.5},
         "encoding": {"detail": {"field": "s"}}},
        {"data": {"name": "p2l"}, "transform": [{"filter": "datum.s === 'Nominal'"}], "mark": {"type": "line", "color": "#111111", "strokeWidth": 1.8},
         "encoding": {}},
        {"data": {"name": "p2"}, "transform": [{"filter": "datum.s !== 'Simulation'"}], "mark": {"type": "point", "filled": true, "size": 62, "opacity": 1},
         "encoding": {
           "color": {"field": "s", "type": "nominal", "scale": {"domain": ["Left", "Right", "Simulation", "Nominal", "Tolerances"], "range": ["#e60000", "#3d64a0", "#00b050", "#000000", "#a6a6a6"]},
             "legend": {"title": null, "orient": "none", "legendX": 12, "legendY": 142, "padding": 0, "labelFont": "Liberation Sans", "labelFontSize": 12, "labelColor": "#333333", "symbolSize": 60, "rowPadding": 10, "labelOffset": 12, "symbolOpacity": 1}},
           "shape": {"field": "s", "type": "nominal", "scale": {"domain": ["Left", "Right", "Simulation", "Nominal", "Tolerances"], "range": ["circle", "circle", "diamond", "M-1.8,-0.3H1.8V0.3H-1.8Z", "M-1.8,-0.3H1.8V0.3H-1.8Z"]},
             "legend": {"title": null, "orient": "none", "legendX": 12, "legendY": 142, "padding": 0, "labelFont": "Liberation Sans", "labelFontSize": 12, "labelColor": "#333333", "symbolSize": 60, "rowPadding": 10, "labelOffset": 12, "symbolOpacity": 1}}
         }},
        {"data": {"name": "p2"}, "transform": [{"filter": "datum.s === 'Simulation'"}], "mark": {"type": "point", "filled": true, "size": 30, "opacity": 1},
         "encoding": {
           "color": {"field": "s", "type": "nominal", "legend": null},
           "shape": {"field": "s", "type": "nominal", "legend": null}
         }},
        {"data": {"values": [{"a": 1}]}, "mark": {"type": "text", "font": "Liberation Sans", "fontSize": 12, "color": "#333333"}, "encoding": {"x": {"datum": 60.7}, "y": {"datum": 61.36}, "text": {"value": "1 : 1"}}}
      ]
    },
    {
      "title": {"text": "Long axis", "offset": 16},
      "width": 250,
      "height": 266,
      "view": {"stroke": "#1a1a1a", "strokeWidth": 2},
      "layer": [
        {"data": {"name": "p3l"}, "transform": [{"filter": "datum.s !== 'Nominal'"}], "mark": {"type": "line", "color": "#9a9a9a", "strokeWidth": 1.5, "interpolate": "natural"},
         "encoding": {
           "x": {"field": "x", "type": "quantitative", "scale": {"domain": [88, 91], "nice": false, "zero": false}, "axis": {"values": [88, 89, 90, 91], "format": "d", "title": "x-position in mm", "gridOpacity": {"condition": {"test": "datum.value <= 88 || datum.value >= 91", "value": 0}, "value": 1}}},
           "y": {"field": "y", "type": "quantitative", "scale": {"domain": [-10, 10], "nice": false, "zero": false}, "axis": {"values": [-10, -5, 0, 5, 10], "title": "y-position in mm", "titlePadding": 4, "labelExpr": "replace(format(datum.value, 'd'), '\u2212', '-')", "gridOpacity": {"condition": {"test": "abs(datum.value) >= 10", "value": 0}, "value": 1}}},
           "detail": {"field": "s"}, "order": {"field": "y"}}},
        {"data": {"name": "p3l"}, "transform": [{"filter": "datum.s === 'Nominal'"}], "mark": {"type": "line", "color": "#111111", "strokeWidth": 1.8, "interpolate": "natural"},
         "encoding": {"x": {"field": "x", "type": "quantitative"}, "y": {"field": "y", "type": "quantitative"}, "order": {"field": "y"}}},
        {"data": {"name": "p3l"}, "transform": [{"filter": "datum.s === 'Nominal' && datum.y === 0"}], "mark": {"type": "rule", "color": "#222222", "strokeWidth": 1.8},
         "encoding": {"y": {"field": "y", "type": "quantitative"}}},
        {"data": {"name": "p3"}, "transform": [{"filter": "datum.s !== 'Simulation'"}], "mark": {"type": "point", "filled": true, "size": 62, "opacity": 1},
         "encoding": {
           "x": {"field": "x", "type": "quantitative"}, "y": {"field": "y", "type": "quantitative"},
           "color": {"field": "s", "type": "nominal", "scale": {"domain": ["Left", "Right", "Simulation", "Nominal", "Tolerances"], "range": ["#e60000", "#3d64a0", "#00b050", "#000000", "#a6a6a6"]}, "legend": null},
           "shape": {"field": "s", "type": "nominal", "scale": {"domain": ["Left", "Right", "Simulation", "Nominal", "Tolerances"], "range": ["circle", "circle", "diamond", "M-1.8,-0.3H1.8V0.3H-1.8Z", "M-1.8,-0.3H1.8V0.3H-1.8Z"]}, "legend": null}
         }},
        {"data": {"name": "p3"}, "transform": [{"filter": "datum.s === 'Simulation'"}], "mark": {"type": "point", "filled": true, "size": 30, "opacity": 1},
         "encoding": {
           "x": {"field": "x", "type": "quantitative"}, "y": {"field": "y", "type": "quantitative"},
           "color": {"field": "s", "type": "nominal", "legend": null},
           "shape": {"field": "s", "type": "nominal", "legend": null}
         }},
        {"data": {"values": [{"a": 1}]}, "mark": {"type": "text", "font": "Liberation Sans", "fontSize": 12, "color": "#333333"}, "encoding": {"x": {"datum": 90.49}, "y": {"datum": 8.35}, "text": {"value": "5 : 1"}}}
      ]
    }
  ],
  "bounds": "flush",
  "spacing": 98,
  "resolve": {
    "scale": {"x": "independent", "y": "independent", "color": "independent", "shape": "independent"},
    "axis": {"x": "independent", "y": "independent"},
    "legend": {"color": "independent", "shape": "independent"}
  },
  "config": {
    "font": "Liberation Sans",
    "view": {"stroke": "#1a1a1a", "strokeWidth": 2},
    "axis": {
      "grid": true, "gridColor": "#d4d4d4", "gridWidth": 1, "domain": true, "domainColor": "#1a1a1a", "domainWidth": 2, "ticks": false,
      "labelFont": "Liberation Sans", "labelFontSize": 13, "labelColor": "#444444", "labelPadding": 12, "labelFlush": false, "labelOverlap": false,
      "titleFont": "Liberation Sans", "titleFontSize": 16, "titleFontWeight": "bold", "titleColor": "#222222"
    },
    "axisX": {"titlePadding": 17},
    "title": {"font": "Liberation Sans", "fontSize": 17, "fontWeight": "bold", "color": "#222222", "anchor": "middle", "frame": "group"}
  }
}
